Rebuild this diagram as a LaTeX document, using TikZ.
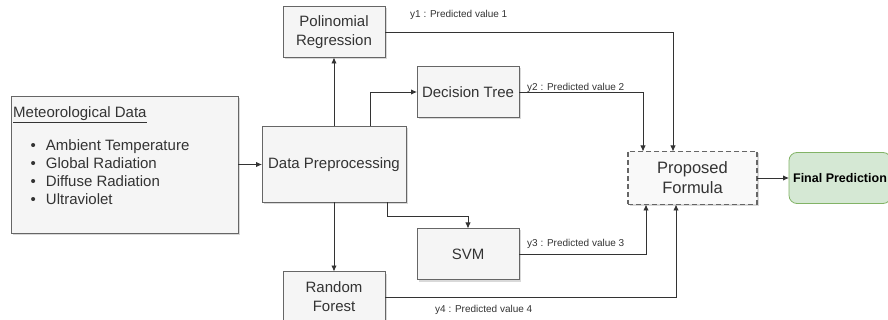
\documentclass[tikz,border=0pt]{standalone}
\usepackage{fontspec}
\setmainfont{Liberation Sans}
\usetikzlibrary{arrows.meta,positioning,shadows}
\definecolor{boxgray}{HTML}{F5F5F5}
\definecolor{linegray}{HTML}{666666}
\definecolor{textgray}{HTML}{333333}
\definecolor{greenfill}{HTML}{D5E8D4}
\definecolor{greenline}{HTML}{82B366}

\begin{document}
\begin{tikzpicture}[x=1pt,y=1pt,node distance=24pt,>={Latex[length=6pt,width=5.5pt]},auto]
  \tikzstyle{block}=[draw=linegray,fill=boxgray,text=textgray,line width=0.8pt,outer sep=0pt,inner sep=2pt,align=center,font=\fontsize{15}{19}\selectfont,drop shadow={shadow xshift=2pt,shadow yshift=-2pt,opacity=0.3}]
  \tikzstyle{model}=[block,minimum width=102pt,minimum height=51pt]
  \tikzstyle{wire}=[draw=textgray,line width=0.9pt]
  \tikzstyle{tag}=[text=textgray,inner sep=0pt,anchor=base west,font=\fontsize{10}{12}\selectfont]
  \useasboundingbox (0,0) rectangle (888,-320);

  % input data
  \node[block,minimum width=227pt,minimum height=137pt] (met) at (124.5,-164.5) {};
  \node[inner sep=0pt,anchor=base west,text=textgray,font=\fontsize{15}{18}\selectfont] (title) at (13,-117.5) {\underline{Meteorological Data}};
  \node[inner sep=0pt,anchor=north west,align=left,text=textgray,font=\fontsize{15}{18}\selectfont] (vars) at (30.5,-139.5)
    {\textbullet\hspace{10pt}Ambient Temperature\\
     \textbullet\hspace{10pt}Global Radiation\\
     \textbullet\hspace{10pt}Diffuse Radiation\\
     \textbullet\hspace{10pt}Ultraviolet};

  % models
  \node[block,minimum width=144pt,minimum height=76pt] (dp) [right=24pt of met] {Data Preprocessing};
  \node[model] (pr) [above=69pt of dp] {Polinomial\\Regression};
  \node[model] (rf) [below=69pt of dp] {Random\\Forest};
  \node[model] (dt) [above right=9pt and 11pt of dp] {Decision Tree};
  \node[model] (svm) [below right=26pt and 11pt of dp] {SVM};

  % output
  \node[block,draw=linegray,dash pattern=on 5pt off 3pt,line width=1.2pt,fill=boxgray!60,minimum width=129pt,minimum height=53pt,font=\fontsize{16.5}{20}\selectfont] (pf) [right=222pt of dp,yshift=-13.5pt] {Proposed\\Formula};
  \node[draw=greenline,fill=greenfill,rounded corners=8pt,line width=0.8pt,outer sep=0pt,minimum width=102pt,minimum height=51pt,font=\bfseries\fontsize{12.5}{15}\selectfont] (fp) [right=32pt of pf] {Final Prediction};

  \draw[wire,->] (met) -- (dp);
  \draw[wire,->] (dp) -- (pr);
  \draw[wire,->] (dp) -- (rf);
  \draw[wire,->] ([xshift=36pt]dp.north) |- (dt);
  \draw[wire,->] ([xshift=53pt]dp.south) -- ++(0,-14) -| (svm);
  \draw[wire,->] (pr) -| ([xshift=-19.5pt]pf.north);
  \draw[wire,->] (dt) -| ([xshift=-49.5pt]pf.north);
  \draw[wire,->] (svm) -| ([xshift=-46.5pt]pf.south);
  \draw[wire,->] (rf) -| ([xshift=-16.5pt]pf.south);
  \draw[wire,->] (pf) -- (fp);

  \node[tag] (y1) at ([xshift=25pt,yshift=14pt]pr.east) {y1 : Predicted value 1};
  \node[tag] (y2) at ([xshift=8pt,yshift=1.5pt]dt.east) {y2 : Predicted value 2};
  \node[tag] (y3) at ([xshift=8pt,yshift=7pt]svm.east) {y3 : Predicted value 3};
  \node[tag] (y4) at ([xshift=50pt,yshift=-15pt]rf.east) {y4 : Predicted value 4};
\end{tikzpicture}
\end{document}
